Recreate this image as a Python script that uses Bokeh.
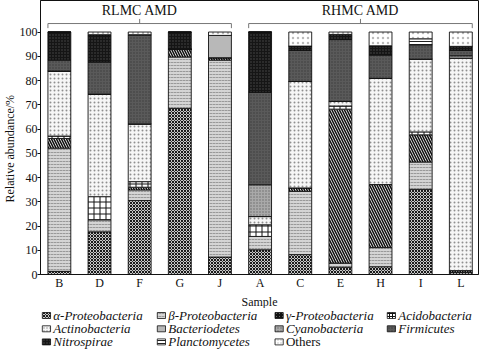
from bokeh.plotting import figure
from bokeh.models import Range1d, FixedTicker, ColumnDataSource, Title
from bokeh.layouts import column
from bokeh.embed import file_html
from bokeh.resources import INLINE
from bokeh.core.properties import value

samples = ["B", "D", "F", "G", "J", "A", "C", "E", "H", "I", "L"]
group_names = ["RLMC AMD", "RHMC AMD"]
group_members = [["B", "D", "F", "G", "J"], ["A", "C", "E", "H", "I", "L"]]

taxa = ["α-Proteobacteria", "β-Proteobacteria", "γ-Proteobacteria", "Acidobacteria",
        "Actinobacteria", "Bacteriodetes", "Cyanobacteria", "Firmicutes",
        "Nitrospirae", "Planctomycetes", "Others"]

alpha_proteobacteria = [1.3, 17.6, 30.5, 68.5, 7.2, 10.2, 8.2, 3.0, 3.2, 35.1, 0.8]
beta_proteobacteria  = [50.8, 5.0, 4.4, 21.2, 81.2, 5.5, 26.1, 1.7, 7.9, 11.3, 0.0]
gamma_proteobacteria = [4.0, 0.0, 1.1, 3.2, 1.0, 0.0, 1.4, 63.5, 26.0, 11.2, 0.8]
acidobacteria        = [1.0, 9.5, 2.3, 0.0, 0.0, 4.8, 0.0, 1.3, 0.0, 1.2, 0.0]
actinobacteria       = [26.8, 42.3, 23.8, 0.0, 0.0, 3.4, 43.9, 1.9, 43.8, 30.0, 87.6]
bacteriodetes        = [0.0, 0.0, 0.0, 0.0, 9.2, 0.0, 0.0, 0.0, 0.0, 0.0, 0.0]
cyanobacteria        = [0.0, 0.0, 0.0, 0.0, 0.0, 13.1, 0.0, 0.0, 0.0, 0.0, 1.0]
firmicutes           = [4.5, 13.2, 36.8, 0.0, 0.0, 38.1, 12.8, 25.5, 9.6, 6.0, 2.2]
nitrospirae          = [11.6, 11.3, 0.0, 7.1, 0.0, 24.9, 1.8, 2.1, 3.8, 0.0, 1.7]
planctomycetes       = [0.0, 0.0, 0.0, 0.0, 0.0, 0.0, 0.0, 0.0, 0.0, 2.4, 0.0]
others               = [0.0, 1.1, 1.1, 0.0, 1.4, 0.0, 5.8, 1.0, 5.7, 2.8, 5.9]

series = [alpha_proteobacteria, beta_proteobacteria, gamma_proteobacteria, acidobacteria,
          actinobacteria, bacteriodetes, cyanobacteria, firmicutes, nitrospirae,
          planctomycetes, others]
y_ticks = [0, 10, 20, 30, 40, 50, 60, 70, 80, 90, 100]
x_title = "Sample"
y_title = "Relative abundance/%"

# styles (fill, hatch pattern, hatch colour, hatch scale, hatch weight)
styles = [
    ("#c8c8c8", "diagonal_cross", "#1a1a1a", 3, 1.0),
    ("#d4d4d4", "horizontal_dash", "#999999", 3, 1.0),
    ("#ffffff", "left_diagonal_line", "#111111", 5, 1.6),
    ("#ffffff", "cross", "#111111", 6, 1.0),
    ("#f6f6f6", "dot", "#8f8f8f", 4, 1.0),
    ("#b8b8b8", " ", "#b8b8b8", 4, 1.0),
    ("#a9a9a9", "dot", "#6a6a6a", 3, 1.0),
    ("#5a5a5a", "dot", "#3a3a3a", 3, 1.0),
    ("#151515", "dot", "#4a4a4a", 3, 1.0),
    ("#ffffff", "horizontal_line", "#222222", 3, 1.0),
    ("#ffffff", "dot", "#bbbbbb", 5, 1.0),
]

SERIF = "Liberation Serif"
bar_w = 0.57
x_start, x_end = -0.47, 10.44
xs = list(range(len(samples)))

data = {"x": xs}
keys = []
for i, s in enumerate(series):
    k = "s%d" % i
    keys.append(k)
    data[k] = s
source = ColumnDataSource(data)

p = figure(width=480, height=308, x_range=Range1d(x_start, x_end), y_range=Range1d(0, 113),
           toolbar_location=None, output_backend="svg",
           min_border_left=36, min_border_right=2, min_border_top=0, min_border_bottom=31)

p.vbar_stack(keys, x="x", width=bar_w, source=source,
             fill_color=[s[0] for s in styles],
             hatch_pattern=[s[1] for s in styles],
             hatch_color=[s[2] for s in styles],
             hatch_scale=[s[3] for s in styles],
             hatch_weight=[s[4] for s in styles],
             line_color="#111111", line_width=0.9)

# group brackets and labels
for name, members in zip(group_names, group_members):
    idx = [samples.index(m) for m in members]
    x0 = min(idx) - bar_w / 2
    x1 = max(idx) + bar_w / 2
    xc = (min(idx) + max(idx)) / 2
    p.line([x0, x0, x1, x1], [101.6, 103.5, 103.5, 101.6], line_color="#777777", line_width=1)
    p.line([xc, xc], [103.5, 105.4], line_color="#777777", line_width=1)
    p.text(x=[xc], y=[108.7], text=[name], text_font=value(SERIF), text_font_size="14px",
           text_align="center", text_baseline="middle", text_color="#111111")

p.xgrid.visible = False
p.ygrid.visible = False
p.outline_line_color = "#111111"
p.outline_line_width = 1

p.xaxis.ticker = FixedTicker(ticks=xs)
p.xaxis.major_label_overrides = {i: s for i, s in enumerate(samples)}
p.xaxis.major_tick_out = 0
p.xaxis.major_tick_in = 0
p.xaxis.minor_tick_line_color = None
p.xaxis.major_label_standoff = 1

p.yaxis.ticker = FixedTicker(ticks=y_ticks)
p.yaxis.major_tick_out = 3
p.yaxis.major_tick_in = 0
p.yaxis.minor_tick_line_color = None
p.yaxis.major_label_standoff = 0

for ax in (p.xaxis, p.yaxis):
    ax.major_label_text_font = SERIF
    ax.major_label_text_font_size = "12px"
    ax.major_label_text_color = "#111111"
    ax.axis_line_color = "#111111"
    ax.major_tick_line_color = "#111111"

# axis titles as side panels
p.add_layout(Title(text=y_title, align="left", standoff=0, offset=72,
                   text_font=SERIF, text_font_size="12px", text_font_style="normal",
                   text_color="#111111"), "left")
p.add_layout(Title(text=x_title, align="center", standoff=0, offset=0,
                   text_font=SERIF, text_font_size="12px", text_font_style="normal",
                   text_color="#111111"), "below")

# legend as a separate strip
leg = figure(width=480, height=41, x_range=Range1d(0, 480), y_range=Range1d(41, 0),
             toolbar_location=None, output_backend="svg", x_axis_type=None, y_axis_type=None,
             min_border_left=0, min_border_right=0, min_border_top=0, min_border_bottom=0)
leg.xgrid.visible = False
leg.ygrid.visible = False
leg.outline_line_color = None

col_x = [2, 128, 257, 380]
row_y = [7.0, 20.3, 33.4]
for i, (name, st) in enumerate(zip(taxa, styles)):
    r, c = divmod(i, 4)
    sx = col_x[c]
    sy = row_y[r]
    leg.rect(x=[sx + 4.5], y=[sy], width=9, height=6,
             fill_color=st[0], hatch_pattern=st[1], hatch_color=st[2],
             hatch_scale=min(st[3], 3), hatch_weight=st[4],
             line_color="#111111", line_width=0.8)
    leg.text(x=[sx + 12], y=[sy], text=[name], text_font=value(SERIF), text_font_size="13px",
             text_font_style="normal" if name == "Others" else "italic",
             text_baseline="middle", text_align="left", text_color="#111111")

layout = column(p, leg, spacing=0)
open("out.html", "w").write(file_html(layout, INLINE))
